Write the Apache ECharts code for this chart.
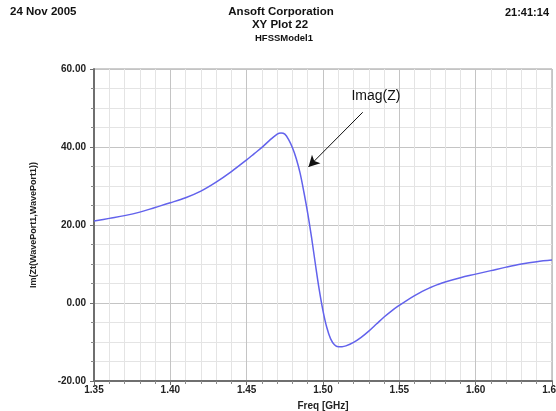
<!DOCTYPE html>
<html>
<head>
<meta charset="utf-8">
<script src="https://cdn.jsdelivr.net/npm/echarts@6/dist/echarts.min.js"></script>
<style>
  html, body { margin: 0; padding: 0; background: #fff; }
  #chart { width: 556px; height: 411px; }
</style>
</head>
<body>
<div id="chart"></div>
<script>
// Frequency sweep (GHz) and imaginary part of the port impedance
const freqGHz = [
  1.350, 1.360, 1.370, 1.380, 1.390, 1.400, 1.410, 1.420, 1.430, 1.440,
  1.450, 1.455, 1.460, 1.465, 1.470, 1.4725, 1.475, 1.4775, 1.480, 1.4825,
  1.485, 1.4875, 1.490, 1.4925, 1.495, 1.4975, 1.500, 1.5025, 1.505, 1.5075,
  1.510, 1.5125, 1.515, 1.520, 1.525, 1.530, 1.535, 1.540, 1.545, 1.550,
  1.555, 1.560, 1.565, 1.570, 1.575, 1.580, 1.590, 1.600, 1.610, 1.620,
  1.630, 1.640, 1.650
];
const imagZ = [
  21.0, 21.7, 22.4, 23.3, 24.5, 25.7, 27.0, 28.7, 31.0, 33.7,
  36.7, 38.3, 39.9, 41.7, 43.3, 43.6, 43.3, 41.9, 39.8, 37.0,
  33.3, 28.4, 23.0, 16.8, 10.0, 3.5, -2.0, -6.3, -9.2, -10.7,
  -11.2, -11.2, -11.0, -10.1, -8.8, -7.2, -5.4, -3.6, -2.0, -0.6,
  0.7, 1.9, 3.0, 3.9, 4.7, 5.4, 6.5, 7.4, 8.3, 9.2,
  10.0, 10.6, 11.0
];

// Axis ranges and header texts
const xRange = [1.35, 1.65];
const yRange = [-20, 60];
const headerLeft = '24 Nov 2005';
const headerTitle = 'Ansoft Corporation';
const headerSub = 'XY Plot 22';
const headerModel = 'HFSSModel1';
const headerRight = '21:41:14';
const xName = 'Freq [GHz]';
const yName = 'Im(Zt(WavePort1,WavePort1))';

// Callout pointing at the resonance
const calloutText = 'Imag(Z)';
const calloutLabelAt = [1.5347, 53.1];
const calloutFrom = [1.526, 48.9];
const calloutTo = [1.4905, 34.9];

const FONT = '"Liberation Sans", Arial, sans-serif';
const chart = echarts.init(document.getElementById('chart'), null, { renderer: 'canvas' });

const points = freqGHz.map((f, i) => [f, imagZ[i]]);

const axisText = { color: '#222', fontFamily: FONT, fontWeight: 'bold', fontSize: 10 };
const headerStyle = (size, align) => ({
  fontFamily: FONT, fontWeight: 'bold', fontSize: size, fill: '#111',
  textAlign: align, textVerticalAlign: 'middle'
});

chart.setOption({
  animation: false,
  backgroundColor: '#fff',
  graphic: [
    { type: 'text', x: 10, y: 12, style: { text: headerLeft, ...headerStyle(11.5, 'left') } },
    { type: 'text', x: 281, y: 12, style: { text: headerTitle, ...headerStyle(11.5, 'center') } },
    { type: 'text', x: 280, y: 25, style: { text: headerSub, ...headerStyle(11.5, 'center') } },
    { type: 'text', x: 284, y: 38, style: { text: headerModel, ...headerStyle(9.5, 'center') } },
    { type: 'text', x: 549, y: 13, style: { text: headerRight, ...headerStyle(11, 'right') } }
  ],
  grid: {
    left: 94, right: 4, top: 69, bottom: 30,
    outerBoundsMode: 'none',
    containLabel: false,
    show: true, borderColor: '#9a9a9a', borderWidth: 1
  },
  xAxis: {
    type: 'value',
    min: xRange[0], max: xRange[1], interval: 0.05,
    name: xName, nameLocation: 'middle', nameGap: 20,
    nameTextStyle: axisText,
    axisLine: { show: true, onZero: false, lineStyle: { color: '#6f6f6f', width: 2 } },
    axisTick: { show: true, length: 4, lineStyle: { color: '#6f6f6f' } },
    minorTick: { show: true, splitNumber: 5, length: 3, lineStyle: { color: '#8a8a8a' } },
    axisLabel: { ...axisText, margin: 4, hideOverlap: false, formatter: v => v.toFixed(2) },
    splitLine: { show: true, lineStyle: { color: '#c4c4c4', width: 1 } },
    minorSplitLine: { show: true, lineStyle: { color: '#e4e4e4', width: 1 } }
  },
  yAxis: {
    type: 'value',
    min: yRange[0], max: yRange[1], interval: 20,
    name: yName, nameLocation: 'middle', nameGap: 56, nameRotate: 90,
    nameTextStyle: { ...axisText, fontSize: 9 },
    axisLine: { show: true, onZero: false, lineStyle: { color: '#6f6f6f', width: 2 } },
    axisTick: { show: true, length: 4, lineStyle: { color: '#6f6f6f' } },
    minorTick: { show: true, splitNumber: 4, length: 3, lineStyle: { color: '#8a8a8a' } },
    axisLabel: { ...axisText, margin: 8, formatter: v => v.toFixed(2) },
    splitLine: { show: true, lineStyle: { color: '#c4c4c4', width: 1 } },
    minorSplitLine: { show: true, lineStyle: { color: '#e4e4e4', width: 1 } }
  },
  series: [{
    type: 'line',
    data: points,
    smooth: 0.35,
    showSymbol: false,
    clip: true,
    lineStyle: { color: '#6262ec', width: 1.5 },
    markLine: {
      silent: true,
      symbol: ['none', 'arrow'],
      symbolSize: [9, 11],
      label: { show: false },
      lineStyle: { color: '#111', width: 1, type: 'solid' },
      data: [[{ coord: calloutFrom }, { coord: calloutTo }]]
    },
    markPoint: {
      silent: true,
      symbol: 'circle',
      symbolSize: 0,
      label: {
        show: true, position: 'inside', formatter: calloutText,
        fontFamily: FONT, fontSize: 14, color: '#111'
      },
      data: [{ coord: calloutLabelAt }]
    }
  }]
});
</script>
</body>
</html>
